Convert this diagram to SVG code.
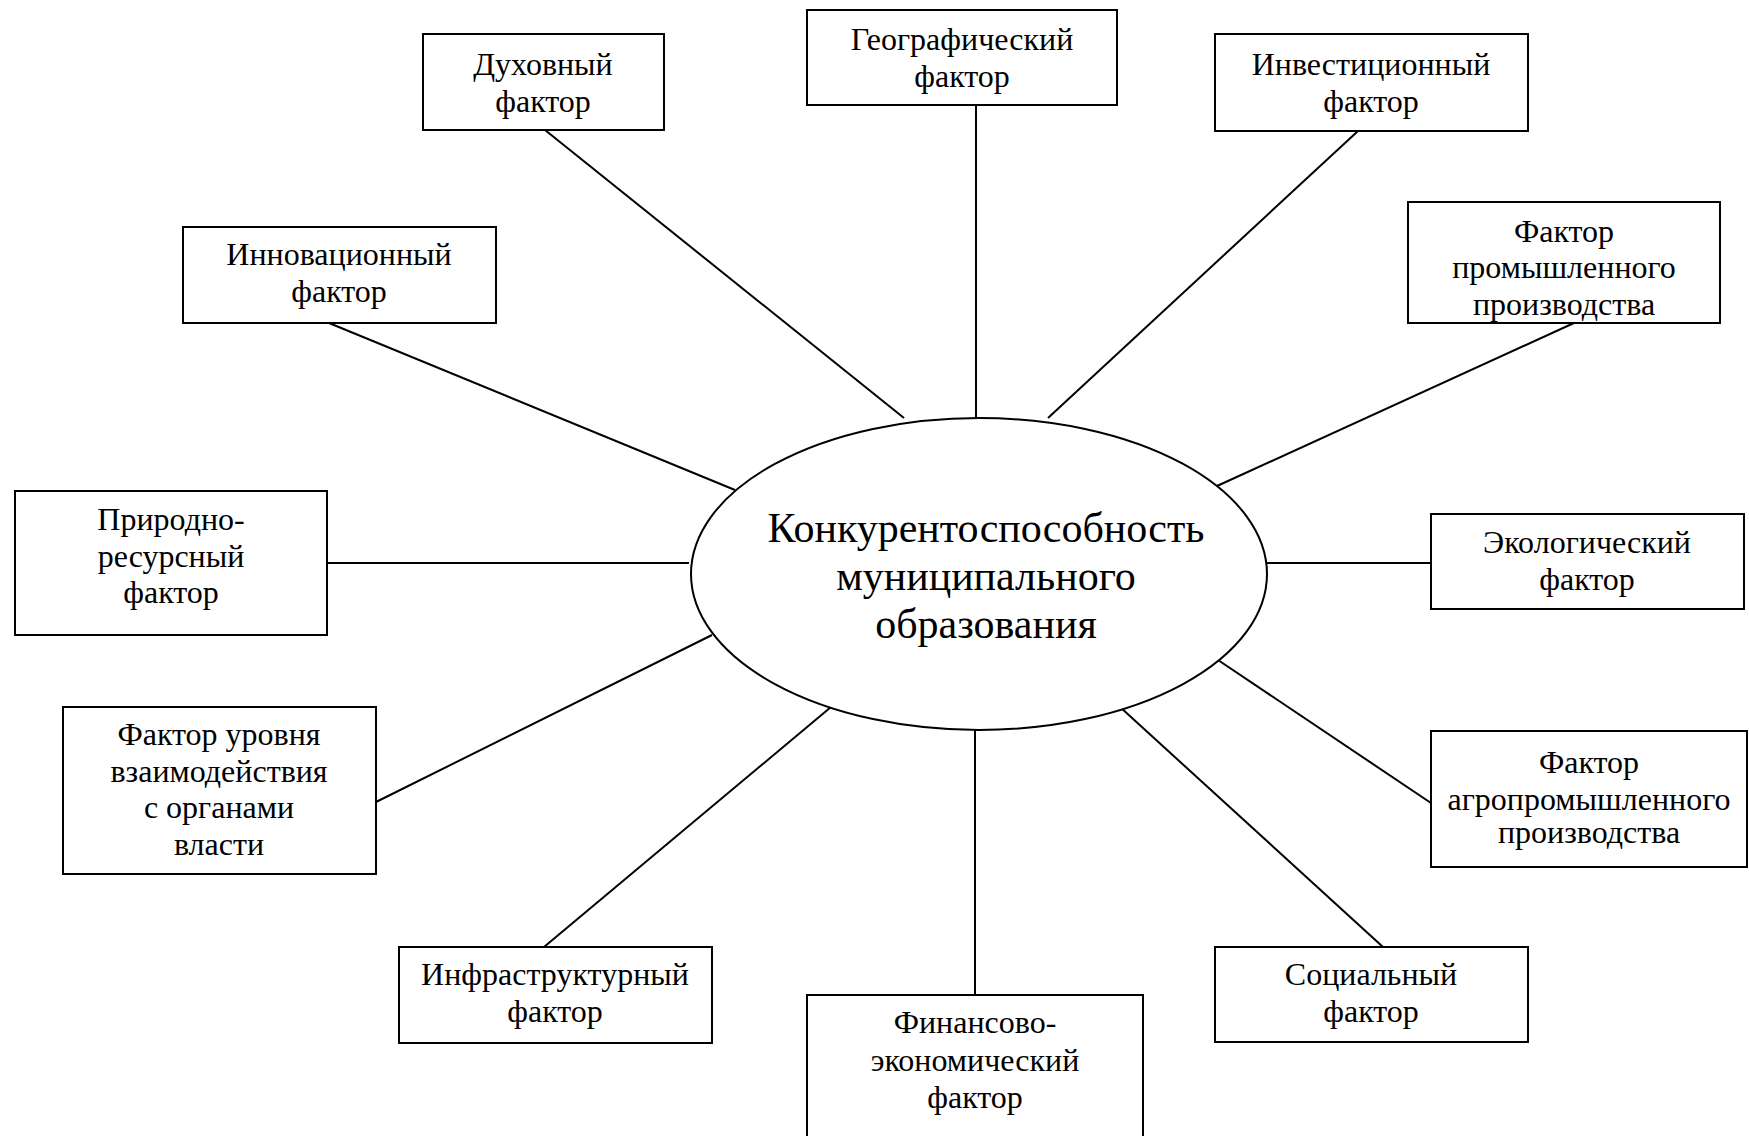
<svg xmlns="http://www.w3.org/2000/svg" width="1749" height="1136" viewBox="0 0 1749 1136">
<style>
.box{fill:#fff;stroke:#000;stroke-width:2}
.t{font-family:"Liberation Serif","Times New Roman",serif;font-size:32px;fill:#000;text-anchor:middle}
.c{font-size:42px}
.ln{stroke:#000;stroke-width:2;fill:none}
</style>
<rect width="1749" height="1136" fill="#fff"/>
<g id="connectors">
<line class="ln" x1="545" y1="130" x2="904" y2="418"/>
<line class="ln" x1="976" y1="105" x2="976" y2="418"/>
<line class="ln" x1="1358" y1="131" x2="1048" y2="418"/>
<line class="ln" x1="1574" y1="323" x2="1217" y2="486"/>
<line class="ln" x1="329" y1="323" x2="735" y2="490"/>
<line class="ln" x1="327" y1="563" x2="689" y2="563"/>
<line class="ln" x1="1265" y1="563" x2="1431" y2="563"/>
<line class="ln" x1="376" y1="802" x2="712" y2="635"/>
<line class="ln" x1="1218" y1="660" x2="1431" y2="803"/>
<line class="ln" x1="544" y1="947" x2="831" y2="707"/>
<line class="ln" x1="975" y1="730" x2="975" y2="995"/>
<line class="ln" x1="1383" y1="947" x2="1120" y2="707"/>
</g>
<g id="center">
<ellipse class="box" cx="979" cy="574" rx="288" ry="156"/>
<text class="t c" x="986" y="542">Конкурентоспособность</text>
<text class="t c" x="986" y="590">муниципального</text>
<text class="t c" x="986" y="638">образования</text>
</g>
<g id="dukhovny">
<rect class="box" x="423" y="34" width="241" height="96"/>
<text class="t" x="543" y="75">Духовный</text>
<text class="t" x="543" y="112">фактор</text>
</g>
<g id="geograficheskiy">
<rect class="box" x="807" y="10" width="310" height="95"/>
<text class="t" x="962" y="50">Географический</text>
<text class="t" x="962" y="87">фактор</text>
</g>
<g id="investitsionny">
<rect class="box" x="1215" y="34" width="313" height="97"/>
<text class="t" x="1371" y="75">Инвестиционный</text>
<text class="t" x="1371" y="112">фактор</text>
</g>
<g id="promyshlennogo">
<rect class="box" x="1408" y="202" width="312" height="121"/>
<text class="t" x="1564" y="242">Фактор</text>
<text class="t" x="1564" y="278">промышленного</text>
<text class="t" x="1564" y="315">производства</text>
</g>
<g id="innovatsionny">
<rect class="box" x="183" y="227" width="313" height="96"/>
<text class="t" x="339" y="265">Инновационный</text>
<text class="t" x="339" y="302">фактор</text>
</g>
<g id="prirodno">
<rect class="box" x="15" y="491" width="312" height="144"/>
<text class="t" x="171" y="530">Природно-</text>
<text class="t" x="171" y="567">ресурсный</text>
<text class="t" x="171" y="603">фактор</text>
</g>
<g id="ekologicheskiy">
<rect class="box" x="1431" y="514" width="313" height="95"/>
<text class="t" x="1587" y="553">Экологический</text>
<text class="t" x="1587" y="590">фактор</text>
</g>
<g id="urovnya">
<rect class="box" x="63" y="707" width="313" height="167"/>
<text class="t" x="219" y="745">Фактор уровня</text>
<text class="t" x="219" y="782">взаимодействия</text>
<text class="t" x="219" y="818">с органами</text>
<text class="t" x="219" y="855">власти</text>
</g>
<g id="agro">
<rect class="box" x="1431" y="731" width="316" height="136"/>
<text class="t" x="1589" y="773">Фактор</text>
<text class="t" x="1589" y="810">агропромышленного</text>
<text class="t" x="1589" y="843">производства</text>
</g>
<g id="infrastrukturny">
<rect class="box" x="399" y="947" width="313" height="96"/>
<text class="t" x="555" y="985">Инфраструктурный</text>
<text class="t" x="555" y="1022">фактор</text>
</g>
<g id="finansovo">
<rect class="box" x="807" y="995" width="336" height="150"/>
<text class="t" x="975" y="1033">Финансово-</text>
<text class="t" x="975" y="1071">экономический</text>
<text class="t" x="975" y="1108">фактор</text>
</g>
<g id="sotsialny">
<rect class="box" x="1215" y="947" width="313" height="95"/>
<text class="t" x="1371" y="985">Социальный</text>
<text class="t" x="1371" y="1022">фактор</text>
</g>
</svg>
